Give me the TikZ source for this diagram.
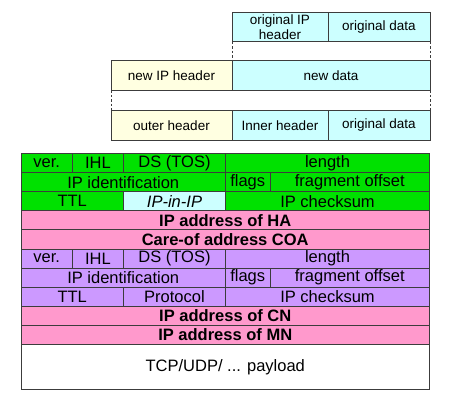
\documentclass[tikz,border=0pt]{standalone}
\usepackage{fontspec}
\setmainfont{Liberation Sans}
\definecolor{ipgreen}{RGB}{0,225,0}
\definecolor{ippink}{RGB}{255,153,204}
\definecolor{iplilac}{RGB}{204,153,255}
\definecolor{ipcyan}{RGB}{204,255,255}
\definecolor{ipcream}{RGB}{255,255,225}
\definecolor{ipline}{RGB}{60,60,60}
\begin{document}
\begin{tikzpicture}[x=1pt,y=-1pt,
    box/.style={draw=ipline,line width=0.9pt,inner sep=0pt,outer sep=0pt,anchor=north west,
        minimum height=29.3pt,font=\fontsize{13.5}{14.5}\selectfont,align=center},
    field/.style={draw=ipline,line width=0.9pt,inner sep=0pt,outer sep=0pt,anchor=north west,
        minimum height=19.1pt,font=\fontsize{16.5}{17}\selectfont},
    gap/.style={draw=ipline,line width=0.9pt,dashed,dash pattern=on 2.5pt off 2pt}]
    \useasboundingbox (0,0) rectangle (450,405);
    %% Packets
    \node[box,fill=ipcyan,minimum width=96pt] (origHdr) at (232,12.3) {original IP\\header};
    \node[box,fill=ipcyan,minimum width=102pt] (origData) at (328,12.3) {original data};
    \node[box,fill=ipcream,minimum width=121pt] (newHdr) at (111,60.7) {new IP header};
    \node[box,fill=ipcyan,minimum width=198pt] (newData) at (232,60.7) {new data};
    \node[box,fill=ipcream,minimum width=121pt] (outerHdr) at (111,110.7) {outer header};
    \node[box,fill=ipcyan,minimum width=96pt] (innerHdr) at (232,110.7) {Inner header};
    \node[box,fill=ipcyan,minimum width=102pt] (innerData) at (328,110.7) {original data};
    \draw[gap] (origHdr.south west) -- (newData.north west);
    \draw[gap] (origData.south east) -- (newData.north east);
    \draw[gap] (newHdr.south west) -- (outerHdr.north west);
    \draw[gap] (newData.south east) -- (innerData.north east);
    %% Outer header
    \node[field,fill=ipgreen,minimum width=51.5pt] (verA) at (21,153.5) {ver.};
    \node[field,fill=ipgreen,minimum width=51pt] (ihlA) at (72.5,153.5) {IHL};
    \node[field,fill=ipgreen,minimum width=102pt] (dsA) at (123.5,153.5) {DS (TOS)};
    \node[field,fill=ipgreen,minimum width=204pt] (lenA) at (225.5,153.5) {length};
    \node[field,fill=ipgreen,minimum width=204.5pt] (idA) at (21,172.6) {IP identification};
    \node[field,fill=ipgreen,minimum width=44.5pt] (flagsA) at (225.5,172.6) {flags};
    \node[field,fill=ipgreen,minimum width=159.5pt] (fragA) at (270,172.6) {fragment offset};
    \node[field,fill=ipgreen,minimum width=102.5pt] (ttlA) at (21,191.7) {TTL};
    \node[field,fill=ipcyan,minimum width=102pt] (protoA) at (123.5,191.7) {\itshape IP-in-IP};
    \node[field,fill=ipgreen,minimum width=204pt] (sumA) at (225.5,191.7) {IP checksum};
    \node[field,fill=ippink,minimum width=408.5pt,font=\fontsize{16.5}{17}\selectfont\bfseries] (srcA) at (21,210.8) {IP address of HA};
    \node[field,fill=ippink,minimum width=408.5pt,font=\fontsize{16.5}{17}\selectfont\bfseries] (dstA) at (21,229.9) {Care-of address COA};
    %% Inner header
    \node[field,fill=iplilac,minimum width=51.5pt] (verB) at (21,249.0) {ver.};
    \node[field,fill=iplilac,minimum width=51pt] (ihlB) at (72.5,249.0) {IHL};
    \node[field,fill=iplilac,minimum width=102pt] (dsB) at (123.5,249.0) {DS (TOS)};
    \node[field,fill=iplilac,minimum width=204pt] (lenB) at (225.5,249.0) {length};
    \node[field,fill=iplilac,minimum width=204.5pt] (idB) at (21,268.1) {IP identification};
    \node[field,fill=iplilac,minimum width=44.5pt] (flagsB) at (225.5,268.1) {flags};
    \node[field,fill=iplilac,minimum width=159.5pt] (fragB) at (270,268.1) {fragment offset};
    \node[field,fill=iplilac,minimum width=102.5pt] (ttlB) at (21,287.2) {TTL};
    \node[field,fill=iplilac,minimum width=102pt] (protoB) at (123.5,287.2) {Protocol};
    \node[field,fill=iplilac,minimum width=204pt] (sumB) at (225.5,287.2) {IP checksum};
    \node[field,fill=ippink,minimum width=408.5pt,font=\fontsize{16.5}{17}\selectfont\bfseries] (srcB) at (21,306.3) {IP address of CN};
    \node[field,fill=ippink,minimum width=408.5pt,font=\fontsize{16.5}{17}\selectfont\bfseries] (dstB) at (21,325.4) {IP address of MN};
    %% Payload
    \node[field,fill=white,minimum width=408.5pt,minimum height=45pt] (payload) at (21,344.5) {TCP/UDP/ ... payload};
\end{tikzpicture}
\end{document}
